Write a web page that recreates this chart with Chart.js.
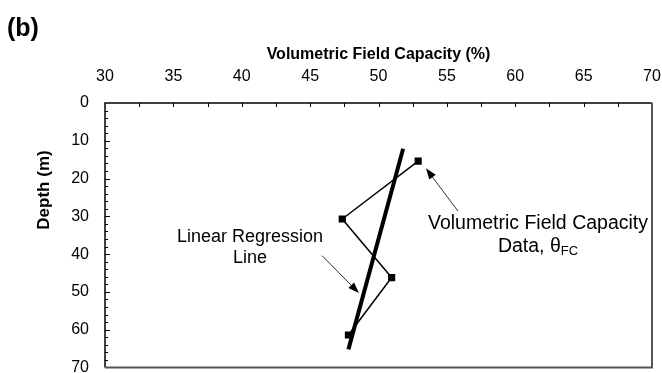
<!DOCTYPE html>
<html>
<head>
<meta charset="utf-8">
<script src="https://cdn.jsdelivr.net/npm/chart.js@4.4.0/dist/chart.umd.min.js"></script>
<style>
html, body { margin: 0; padding: 0; background: #fff; }
#wrap { width: 662px; height: 373px; }
</style>
</head>
<body>
<div id="wrap"><canvas id="c" width="662" height="373"></canvas></div>
<script>
'use strict';

// measured data: volumetric field capacity (%) vs depth (m)
var fcValues = [52.9, 47.35, 50.96, 47.8];
var fcDepths = [15.4, 30.7, 46.2, 61.4];
// linear regression line end points
var regValues = [51.8, 47.8];
var regDepths = [12.1, 65.2];
// tick labels
var xTicks = [30, 35, 40, 45, 50, 55, 60, 65, 70];
var yTicks = [0, 10, 20, 30, 40, 50, 60, 70];

var FONT = '"Liberation Sans", Arial, sans-serif';

function toPoints(xs, ys) {
    return xs.map(function(x, i) { return { x: x, y: ys[i] }; });
}

function arrow(ctx, x1, y1, x2, y2) {
    var ang = Math.atan2(y2 - y1, x2 - x1);
    var len = 11, half = 4;
    ctx.beginPath();
    ctx.moveTo(x1, y1);
    ctx.lineTo(x2 - Math.cos(ang) * len * 0.8, y2 - Math.sin(ang) * len * 0.8);
    ctx.lineWidth = 1;
    ctx.strokeStyle = '#333';
    ctx.stroke();
    ctx.beginPath();
    ctx.moveTo(x2, y2);
    ctx.lineTo(x2 - Math.cos(ang) * len - Math.sin(ang) * half, y2 - Math.sin(ang) * len + Math.cos(ang) * half);
    ctx.lineTo(x2 - Math.cos(ang) * len + Math.sin(ang) * half, y2 - Math.sin(ang) * len - Math.cos(ang) * half);
    ctx.closePath();
    ctx.fillStyle = '#000';
    ctx.fill();
}

var framePlugin = {
    id: 'frame',
    afterDraw: function(chart) {
        var ctx = chart.ctx;
        var a = chart.chartArea;
        var xs = chart.scales.x, ys = chart.scales.y;
        ctx.save();

        // plot frame
        ctx.lineWidth = 1.5;
        ctx.strokeStyle = '#000';
        ctx.beginPath();
        ctx.moveTo(a.left, a.bottom);
        ctx.lineTo(a.left, a.top);
        ctx.lineTo(a.right, a.top);
        ctx.stroke();
        ctx.lineWidth = 2;
        ctx.strokeStyle = '#555';
        ctx.beginPath();
        ctx.moveTo(a.right, a.top);
        ctx.lineTo(a.right, a.bottom);
        ctx.lineTo(a.left, a.bottom);
        ctx.stroke();

        // inside ticks
        ctx.lineWidth = 1;
        ctx.strokeStyle = '#000';
        ctx.beginPath();
        for (var v = 32.5; v < 70; v += 2.5) {
            var px = Math.round(xs.getPixelForValue(v)) + 0.5;
            ctx.moveTo(px, a.top);
            ctx.lineTo(px, a.top + 4);
        }
        for (var d = 2; d < 70; d += 2) {
            var py = Math.round(ys.getPixelForValue(d)) + 0.5;
            ctx.moveTo(a.left, py);
            ctx.lineTo(a.left + (d % 10 === 0 ? 5 : 3), py);
        }
        ctx.stroke();

        // panel label and y title
        ctx.fillStyle = '#000';
        ctx.font = 'bold 25px ' + FONT;
        ctx.textAlign = 'left';
        ctx.textBaseline = 'alphabetic';
        ctx.fillText('(b)', 7, 36);

        ctx.save();
        ctx.translate(44, 190);
        ctx.rotate(-Math.PI / 2);
        ctx.font = 'bold 17px ' + FONT;
        ctx.textAlign = 'center';
        ctx.textBaseline = 'middle';
        ctx.fillText('Depth (m)', 0, 0);
        ctx.restore();

        // annotations
        function P(x, y) { return [xs.getPixelForValue(x), ys.getPixelForValue(y)]; }
        var s1 = P(45.87, 40.4), t1 = P(48.57, 50.3);
        arrow(ctx, s1[0], s1[1], t1[0], t1[1]);
        var s2 = P(55.81, 28.6), t2 = P(53.47, 17.3);
        arrow(ctx, s2[0], s2[1], t2[0], t2[1]);

        ctx.fillStyle = '#000';
        ctx.font = '18px ' + FONT;
        ctx.textAlign = 'center';
        ctx.textBaseline = 'middle';
        var l1 = P(40.6, 35.5);
        ctx.fillText('Linear Regression', l1[0], l1[1]);
        ctx.fillText('Line', l1[0], l1[1] + 21);

        ctx.font = '19.5px ' + FONT;
        var l2 = P(53.75, 31.9);
        ctx.fillText('Volumetric Field Capacity', 538, l2[1]);
        // "Data, θFC" with subscript
        var y2 = l2[1] + 23;
        ctx.textAlign = 'left';
        var w1 = ctx.measureText('Data, θ').width;
        ctx.font = '13px ' + FONT;
        var w2 = ctx.measureText('FC').width;
        var x0 = 538 - (w1 + w2) / 2;
        ctx.font = '19.5px ' + FONT;
        ctx.fillText('Data, θ', x0, y2);
        ctx.font = '13px ' + FONT;
        ctx.fillText('FC', x0 + w1, y2 + 5);

        ctx.restore();
    }
};

var chart = new Chart(document.getElementById('c').getContext('2d'), {
    type: 'scatter',
    data: {
        datasets: [{
            label: 'Volumetric Field Capacity Data',
            data: toPoints(fcValues, fcDepths),
            showLine: true,
            borderColor: '#000',
            backgroundColor: '#000',
            borderWidth: 1.5,
            pointStyle: 'rect',
            pointRadius: 4,
            pointHoverRadius: 4
        }, {
            label: 'Linear Regression Line',
            data: toPoints(regValues, regDepths),
            showLine: true,
            borderColor: '#000',
            borderWidth: 4,
            pointRadius: 0
        }]
    },
    options: {
        responsive: false,
        animation: false,
        devicePixelRatio: 1,
        layout: { padding: { top: 0, left: 0, right: 10, bottom: 3 } },
        plugins: {
            legend: { display: false },
            tooltip: { enabled: false }
        },
        scales: {
            x: {
                type: 'linear',
                position: 'top',
                min: 30,
                max: 70,
                afterBuildTicks: function(s) { s.ticks = xTicks.map(function(v) { return { value: v }; }); },
                afterFit: function(s) { s.height = 103; s.paddingLeft = 0; s.paddingRight = 0; },
                grid: { display: false, drawTicks: false },
                border: { display: false },
                ticks: { color: '#000', padding: 17, font: { family: FONT, size: 16 }, maxRotation: 0 },
                title: {
                    display: true,
                    text: 'Volumetric Field Capacity (%)',
                    color: '#000',
                    font: { family: FONT, size: 16, weight: 'bold' },
                    padding: { top: 45, bottom: 0 }
                }
            },
            y: {
                type: 'linear',
                reverse: true,
                min: 0,
                max: 70,
                afterBuildTicks: function(s) { s.ticks = yTicks.map(function(v) { return { value: v }; }); },
                afterFit: function(s) { s.width = 105; s.paddingTop = 0; s.paddingBottom = 0; },
                grid: { display: false, drawTicks: false },
                border: { display: false },
                ticks: { color: '#000', padding: 16, font: { family: FONT, size: 16 } }
            }
        }
    },
    plugins: [framePlugin]
});
</script>
</body>
</html>
